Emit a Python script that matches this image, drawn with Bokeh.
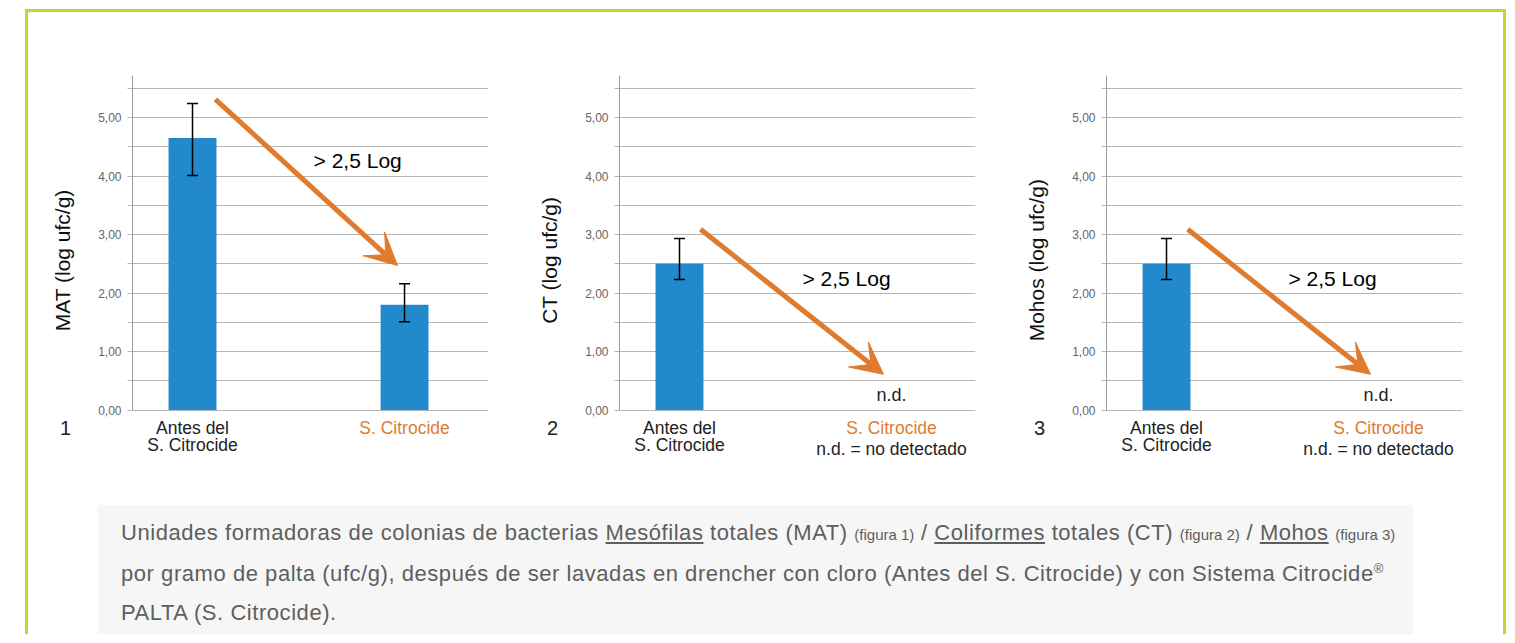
import math
from bokeh.plotting import figure
from bokeh.models import (Range1d, FixedTicker, Label, Arrow, VeeHead, Whisker, TeeHead,
                          ColumnDataSource, Div)
from bokeh.core.properties import value
from bokeh.layouts import row, column
from bokeh.embed import file_html
from bokeh.resources import INLINE

# ---------------- data ----------------
panel_numbers = ["1", "2", "3"]
y_titles = ["MAT (log ufc/g)", "CT (log ufc/g)", "Mohos (log ufc/g)"]
cat_positions = [1, 2]
cat_antes = ["Antes del", "S. Citrocide"]
cat_citro = "S. Citrocide"
nd_note = "n.d. = no detectado"
antes_vals = [4.65, 2.50, 2.50]
antes_lo = [4.01, 2.23, 2.23]
antes_hi = [5.24, 2.93, 2.93]
citro_vals = [1.80, None, None]          # None = n.d. (no detectado)
citro_lo = [1.51, None, None]
citro_hi = [2.16, None, None]
reduction_text = "> 2,5 Log"
y_ticks = [0, 0.5, 1, 1.5, 2, 2.5, 3, 3.5, 4, 4.5, 5, 5.5]
y_tick_labels = {0: "0,00", 1: "1,00", 2: "2,00", 3: "3,00", 4: "4,00", 5: "5,00"}
# arrow annotations (start -> end, data units)
arrow_x0 = [1.108, 1.099, 1.100]
arrow_y0 = [5.31, 3.09, 3.09]
arrow_x1 = [1.967, 1.962, 1.962]
arrow_y1 = [2.47, 0.61, 0.61]
red_lbl_x = [1.571, 1.58, 1.575]
red_lbl_y = [4.27, 2.25, 2.25]

# ---------------- styles ----------------
FONT = "Liberation Sans"
BLUE = "#2389cd"
ORANGE = "#e07b2e"
GRID = "#b6b6b6"
TXT = "#222222"
Y_TOP = 5.718
Y_BOTTOM = -1.034

children = []
for i in range(3):
    yr = Range1d(Y_BOTTOM, Y_TOP)
    # left strip: y-title and panel number
    lf = figure(width=60, height=410, x_range=Range1d(0, 60), y_range=yr,
                output_backend="svg", toolbar_location=None,
                min_border_left=0, min_border_right=0, min_border_top=15, min_border_bottom=0)
    lf.axis.visible = False
    lf.grid.visible = False
    lf.outline_line_color = None
    lf.text(x=[32], y=[2.56], text=[y_titles[i]], angle=math.pi / 2, text_font=value(FONT),
            text_font_size="21px", text_color="#111111", text_align="center", text_baseline="middle")
    lf.text(x=[35], y=[-0.30], text=[panel_numbers[i]], text_font=value(FONT),
            text_font_size="20px", text_color=TXT, text_align="center", text_baseline="middle")

    p = figure(width=427, height=410, x_range=Range1d(0.717, 2.396), y_range=yr,
               output_backend="svg", toolbar_location=None,
               min_border_left=42, min_border_right=29, min_border_top=15, min_border_bottom=0)
    p.outline_line_color = None
    p.xaxis.visible = False
    p.xgrid.visible = False
    p.yaxis.bounds = (0, Y_TOP)
    p.yaxis.ticker = FixedTicker(ticks=y_ticks)
    p.ygrid.ticker = FixedTicker(ticks=y_ticks)
    overrides = {t: "" for t in y_ticks}
    overrides.update(y_tick_labels)
    p.yaxis.major_label_overrides = overrides
    p.yaxis.major_label_text_font = FONT
    p.yaxis.major_label_text_font_size = "12px"
    p.yaxis.major_label_text_color = "#666666"
    p.yaxis.major_label_standoff = 6
    p.yaxis.axis_line_color = "#999999"
    p.yaxis.major_tick_line_color = GRID
    p.yaxis.major_tick_out = 5
    p.yaxis.major_tick_in = 0
    p.yaxis.minor_tick_line_color = None
    p.ygrid.grid_line_color = GRID
    p.ygrid.grid_line_width = 1

    xs, tops = [cat_positions[0]], [antes_vals[i]]
    wx, wl, wh = [cat_positions[0]], [antes_lo[i]], [antes_hi[i]]
    if citro_vals[i] is not None:
        xs.append(cat_positions[1]); tops.append(citro_vals[i])
        wx.append(cat_positions[1]); wl.append(citro_lo[i]); wh.append(citro_hi[i])
    p.vbar(x=xs, top=tops, width=0.226, bottom=0, fill_color=BLUE, line_color=None)

    src = ColumnDataSource(dict(x=wx, lower=wl, upper=wh))
    p.add_layout(Whisker(source=src, base="x", lower="lower", upper="upper", level="overlay",
                         line_color="black", line_width=1.5,
                         upper_head=TeeHead(size=11, line_color="black", line_width=1.5),
                         lower_head=TeeHead(size=11, line_color="black", line_width=1.5)))

    p.add_layout(Arrow(x_start=arrow_x0[i], y_start=arrow_y0[i], x_end=arrow_x1[i], y_end=arrow_y1[i],
                       line_color=ORANGE, line_width=5,
                       end=VeeHead(size=32, fill_color=ORANGE, line_color=ORANGE, line_width=1)))
    p.add_layout(Label(x=red_lbl_x[i], y=red_lbl_y[i], text=reduction_text, text_font=FONT,
                       text_font_size="21px", text_color="black", text_baseline="middle",
                       text_align="left"))
    if citro_vals[i] is None:
        p.text(x=[cat_positions[1]], y=[0.26], text=["n.d."], text_font=value(FONT),
               text_font_size="18px", text_color=TXT, text_baseline="middle", text_align="center")

    # category labels below the zero line
    p.text(x=[cat_positions[0], cat_positions[0]], y=[-0.30, -0.59], text=cat_antes,
           text_font=value(FONT), text_font_size="17.5px", text_color=TXT,
           text_baseline="middle", text_align="center")
    p.text(x=[cat_positions[1]], y=[-0.30], text=[cat_citro], text_font=value(FONT),
           text_font_size="17.5px", text_color=ORANGE, text_baseline="middle", text_align="center")
    if citro_vals[i] is None:
        p.text(x=[cat_positions[1]], y=[-0.66], text=[nd_note], text_font=value(FONT),
               text_font_size="17.5px", text_color=TXT, text_baseline="middle", text_align="center")
    children.extend([lf, p])

caption_html = (
    '<div style="font-family:\'Liberation Sans\',sans-serif; font-size:22px; letter-spacing:0.55px; '
    'color:#5e5e5e; line-height:39px; padding:8px 0 0 23px; white-space:nowrap;">'
    'Unidades formadoras de colonias de bacterias <u>Mesófilas</u> totales (MAT) '
    '<span style="font-size:15px; letter-spacing:0">(figura 1)</span> / <u>Coliformes</u> totales (CT) '
    '<span style="font-size:15px; letter-spacing:0">(figura 2)</span> / <u>Mohos</u> '
    '<span style="font-size:15px; letter-spacing:0">(figura 3)</span><br>'
    'por gramo de palta (ufc/g), después de ser lavadas en drencher con cloro (Antes del S. Citrocide) '
    'y con Sistema Citrocide<sup style="font-size:13px; line-height:0">®</sup><br>'
    'PALTA (S. Citrocide).</div>'
)
cap = Div(text=caption_html, width=1315, height=129, margin=(35, 0, 0, 70),
          styles={"background-color": "#f6f6f6"})

r = row(*children, margin=(48, 0, 0, 2))
outer = column(r, cap, width=1481, margin=(9, 0, 0, 25),
               styles={"border-top": "3px solid #c9d52f", "border-left": "3px solid #c9d52f",
                       "border-right": "3px solid #c9d52f"})

open("out.html", "w").write(file_html(outer, INLINE))
